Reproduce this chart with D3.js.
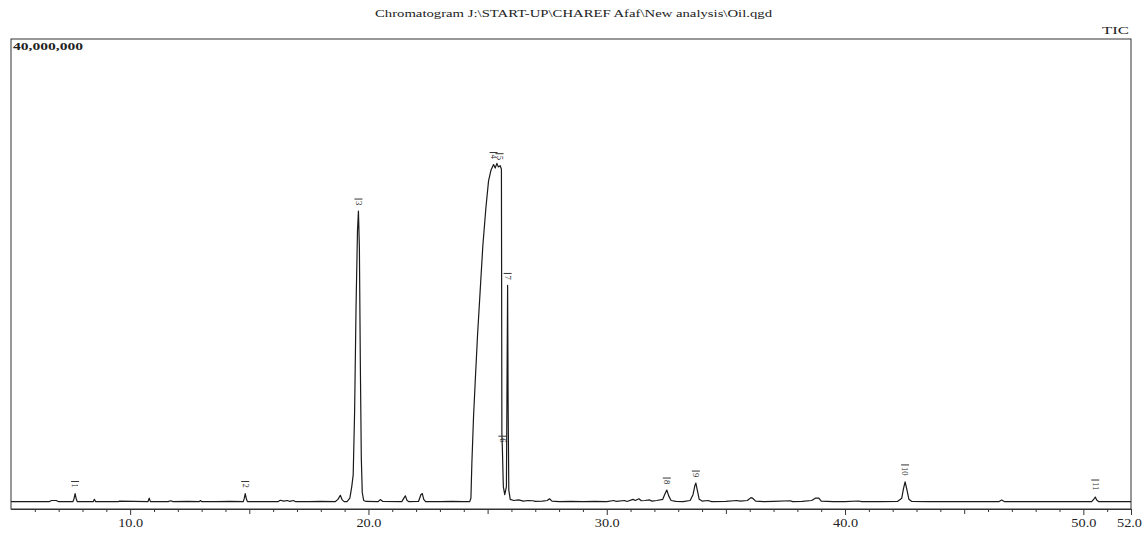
<!DOCTYPE html>
<html>
<head>
<meta charset="utf-8">
<script src="https://cdn.jsdelivr.net/npm/d3@7"></script>
<style>
  body { margin: 0; background: #fff; }
  svg { display: block; }
  text { font-family: "Liberation Serif", "DejaVu Serif", serif; fill: #222; }
</style>
</head>
<body>
<script>
// retention time (min) and TIC signal (millions of counts)
var traceTime = [5.0,5.5,6.0,6.6,6.7,6.9,7.0,7.6,7.65,7.69,7.73,7.78,8.45,8.5,8.55,9.5,9.55,10.75,10.8,10.85,
  11.6,11.7,11.8,12.4,12.9,12.95,13.0,13.6,14.2,14.75,14.79,14.83,14.87,14.92,15.5,16.2,16.3,16.45,16.6,16.7,
  16.85,16.95,17.5,18.0,18.6,18.72,18.82,18.9,18.98,19.1,19.22,19.3,19.36,19.42,19.48,19.54,19.58,19.62,19.66,19.7,
  19.74,19.8,19.9,20.4,20.5,20.6,21.4,21.5,21.55,21.62,21.7,22.1,22.2,22.26,22.32,22.4,23.0,23.5,24.0,24.25,
  24.3,24.34,24.41,24.48,24.58,24.69,24.8,24.93,25.04,25.14,25.25,25.32,25.39,25.45,25.53,25.58,25.6,25.62,25.66,25.72,
  25.79,25.82,25.84,25.86,25.89,25.95,26.1,26.3,26.5,26.7,26.9,27.0,27.3,27.5,27.6,27.7,28.0,28.5,29.0,29.5,
  30.0,30.3,30.4,30.75,30.85,31.1,31.2,31.35,31.45,31.6,31.8,31.9,32.1,32.35,32.45,32.52,32.6,32.7,32.9,33.2,
  33.5,33.62,33.7,33.74,33.8,33.88,34.0,34.25,34.4,35.0,35.46,35.6,35.9,36.05,36.12,36.25,36.6,37.0,37.7,37.8,
  38.2,38.6,38.75,38.9,39.0,39.5,40.0,40.56,40.7,41.5,42.2,42.38,42.45,42.52,42.6,42.68,42.8,43.5,44.5,45.5,
  46.45,46.57,46.7,47.5,48.5,49.5,50.35,50.45,50.5,50.56,50.65,51.5,52.0];
var traceSignal = [0.2,0.2,0.2,0.2,0.3,0.3,0.2,0.2,0.5,0.9,0.5,0.2,0.2,0.4,0.2,0.2,0.25,0.2,0.5,0.2,
  0.2,0.28,0.2,0.22,0.2,0.3,0.2,0.2,0.22,0.2,0.5,0.9,0.5,0.2,0.2,0.2,0.32,0.25,0.3,0.22,
  0.3,0.2,0.2,0.22,0.2,0.4,0.75,0.35,0.2,0.2,0.5,1.5,2.5,8,17,23.5,25.2,22,12,4,
  1.0,0.3,0.22,0.2,0.38,0.22,0.2,0.55,0.7,0.3,0.2,0.22,0.8,0.9,0.4,0.2,0.2,0.22,0.2,0.2,
  0.5,3.5,7.5,10.5,14.6,18.4,22.2,25.5,27.8,28.7,29.2,28.9,29.3,29.0,29.1,28.8,6,4.8,1.5,0.8,
  1.5,12,18.8,9,1.2,0.4,0.3,0.35,0.25,0.3,0.28,0.22,0.25,0.3,0.45,0.25,0.2,0.22,0.2,0.22,
  0.2,0.3,0.22,0.3,0.22,0.4,0.3,0.45,0.28,0.3,0.35,0.25,0.3,0.4,0.9,1.2,0.7,0.3,0.22,0.2,
  0.3,0.8,1.6,1.8,1.2,0.4,0.25,0.3,0.2,0.22,0.3,0.25,0.3,0.55,0.5,0.25,0.2,0.22,0.28,0.2,
  0.22,0.3,0.5,0.5,0.25,0.2,0.2,0.26,0.2,0.2,0.22,0.5,1.3,1.9,1.2,0.4,0.22,0.2,0.2,0.2,
  0.2,0.35,0.2,0.2,0.2,0.2,0.2,0.45,0.6,0.35,0.2,0.2,0.2];

// labelled peaks
var peakNumbers = ["1","2","3","4","5","6","7","8","9","10","11"];
var peakTimes   = [7.69,14.83,19.58,25.25,25.5,25.62,25.84,32.52,33.74,42.52,50.5];
var peakTops    = [0.9,0.9,25.2,29.2,29.1,4.8,18.8,1.2,1.8,1.9,0.6];

var xMajor = [10,20,30,40,50,52];
var titleText = "Chromatogram  J:\\START-UP\\CHAREF Afaf\\New analysis\\Oil.qgd";

var W = 1145, H = 533;
var plotLeft = 11, plotRight = 1131, plotTop = 39, plotBottom = 509;

var svg = d3.select("body").append("svg").attr("width", W).attr("height", H);

var x = d3.scaleLinear().domain([5, 52]).range([plotLeft, plotRight]);
var y = d3.scaleLinear().domain([0, 40]).range([504, plotTop]);

// frame
svg.append("rect")
  .attr("x", plotLeft).attr("y", plotTop)
  .attr("width", plotRight - plotLeft).attr("height", plotBottom - plotTop)
  .attr("fill", "none").attr("stroke", "#333").attr("stroke-width", 1);

// minor ticks every minute, a bit longer on the fives
var minor = d3.range(6, 52);
var gMinor = svg.append("g").attr("transform", "translate(0," + plotBottom + ")")
  .call(d3.axisBottom(x).tickValues(minor.filter(function(d){ return d % 5 != 0; }))
        .tickSize(3).tickSizeOuter(0).tickFormat(""));
var gFive = svg.append("g").attr("transform", "translate(0," + plotBottom + ")")
  .call(d3.axisBottom(x).tickValues([15,25,35,45]).tickSize(5).tickSizeOuter(0).tickFormat(""));
var gMajor = svg.append("g").attr("transform", "translate(0," + plotBottom + ")")
  .call(d3.axisBottom(x).tickValues(xMajor).tickSize(6).tickSizeOuter(0)
        .tickPadding(4).tickFormat(d3.format(".1f")));

[gMinor, gFive, gMajor].forEach(function(g){
  g.select(".domain").attr("stroke", "#333");
  g.selectAll(".tick line").attr("stroke", "#333");
});
gMajor.selectAll("text")
  .attr("font-size", 11.5)
  .attr("font-family", "Liberation Serif, serif")
  .attr("fill", "#222")
  .attr("textLength", 25)
  .attr("lengthAdjust", "spacingAndGlyphs");
// last label sits at the right edge, pull it in a little
gMajor.selectAll(".tick").filter(function(d){ return d == 52; })
  .select("text").attr("x", -2);

// TIC trace
var line = d3.line()
  .x(function(d, i){ return x(traceTime[i]); })
  .y(function(d){ return y(d); })
  .curve(d3.curveLinear);

svg.append("path")
  .attr("d", line(traceSignal))
  .attr("fill", "none")
  .attr("stroke", "#1a1a1a")
  .attr("stroke-width", 1.2)
  .attr("stroke-linejoin", "round");

// peak number markers
var pk = svg.selectAll("g.peak")
  .data(peakNumbers)
  .enter().append("g")
  .attr("class", "peak")
  .attr("transform", function(d, i){
    return "translate(" + x(peakTimes[i]) + "," + (y(peakTops[i]) - 2) + ")";
  });
pk.append("line")
  .attr("x1", -4).attr("x2", 4)
  .attr("y1", function(d){ return -5 - d.length * 5; })
  .attr("y2", function(d){ return -5 - d.length * 5; })
  .attr("stroke", "#333").attr("stroke-width", 1);
pk.append("text")
  .attr("transform", function(d){ return "translate(0," + (-3 - d.length * 5) + ") rotate(90)"; })
  .attr("text-anchor", "start")
  .attr("dy", "0.32em")
  .attr("font-size", 8.5)
  .text(function(d){ return d; });

// texts
svg.append("text")
  .attr("x", 375).attr("y", 17)
  .attr("font-size", 11)
  .attr("textLength", 397)
  .attr("lengthAdjust", "spacingAndGlyphs")
  .text(titleText);

svg.append("text")
  .attr("x", 1102).attr("y", 34)
  .attr("font-size", 10.5)
  .attr("textLength", 27)
  .attr("lengthAdjust", "spacingAndGlyphs")
  .text("TIC");

svg.append("text")
  .attr("x", 13).attr("y", 50)
  .attr("font-size", 10.5)
  .attr("font-weight", "bold")
  .attr("textLength", 70)
  .attr("lengthAdjust", "spacingAndGlyphs")
  .text("40,000,000");
</script>
</body>
</html>
